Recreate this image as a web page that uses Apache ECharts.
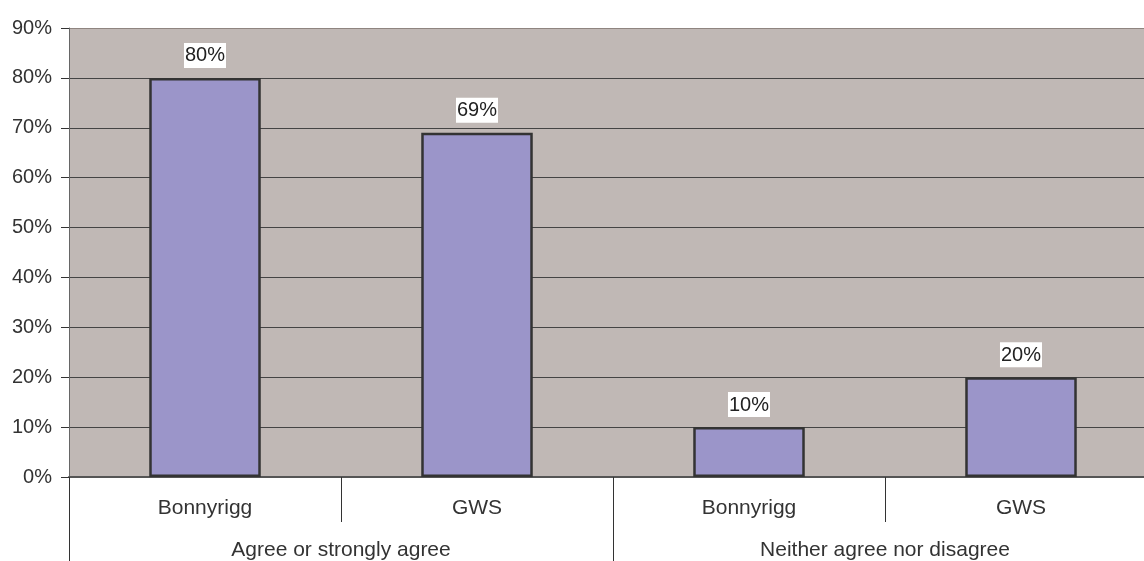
<!DOCTYPE html>
<html>
<head>
<meta charset="utf-8">
<script src="https://cdn.jsdelivr.net/npm/echarts@6/dist/echarts.min.js"></script>
<style>
  html, body { margin: 0; padding: 0; background: #fff; overflow: hidden; }
  #chart { width: 1144px; height: 561px; }
</style>
</head>
<body>
<div id="chart"></div>
<script>
// Data
const places = ['Bonnyrigg', 'GWS', 'Bonnyrigg', 'GWS'];
const groups = ['Agree or strongly agree', 'Neither agree nor disagree'];
const percents = [80, 69, 10, 20];

const font = '"Liberation Sans", Arial, sans-serif';

let chart = echarts.init(document.getElementById('chart'));

let option = {
    animation: false,
    grid: {
        left: 69,
        top: 28,
        width: 1088,
        height: 449,
        outerBoundsMode: 'none',
        containLabel: false,
        show: true,
        backgroundColor: '#c0b8b5',
        borderWidth: 0
    },
    xAxis: [
        {
            type: 'category',
            data: places,
            position: 'bottom',
            axisLine: { lineStyle: { color: '#555', width: 2 } },
            axisTick: { show: true, length: 45, lineStyle: { color: '#333' } },
            axisLabel: { color: '#333', fontSize: 21, fontFamily: font, margin: 21 }
        },
        {
            type: 'category',
            data: groups,
            position: 'bottom',
            axisLine: { show: false },
            axisTick: { show: true, length: 90, lineStyle: { color: '#333' } },
            axisLabel: { color: '#333', fontSize: 21, fontFamily: font, margin: 63 }
        }
    ],
    yAxis: {
        type: 'value',
        min: 0,
        max: 90,
        interval: 10,
        axisLine: { show: true, lineStyle: { color: '#666', width: 1 } },
        axisTick: { show: true, length: 8, lineStyle: { color: '#333' } },
        axisLabel: { color: '#333', fontSize: 20, fontFamily: font, margin: 17, formatter: '{value}%' },
        splitLine: {
            lineStyle: {
                color: ['#444', '#444', '#444', '#444', '#444', '#444', '#444', '#444', '#444', '#8f8580'],
                width: 1
            }
        }
    },
    series: [
        {
            type: 'bar',
            xAxisIndex: 0,
            data: percents,
            barWidth: '41%',
            itemStyle: { color: '#9b95c9', borderColor: '#333', borderWidth: 2.5 },
            label: {
                show: true,
                position: 'top',
                distance: 10,
                formatter: '{c}%',
                color: '#222',
                fontSize: 20,
                fontFamily: font,
                backgroundColor: '#fff',
                padding: [3, 1, 2, 1]
            }
        }
    ]
};

chart.setOption(option);
</script>
</body>
</html>
